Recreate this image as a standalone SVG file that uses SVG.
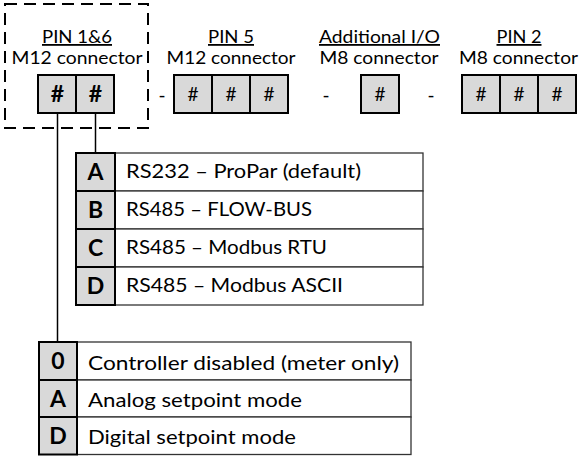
<svg xmlns="http://www.w3.org/2000/svg" width="581" height="456" viewBox="0 0 581 456">
<style>
text{font-family:Lato,"Open Sans","Liberation Sans",sans-serif;fill:#000}
.hdr{font-size:18px;text-anchor:middle}
.u{text-decoration:underline}
.pin{fill:#d9d9d9;stroke:#000;stroke-width:2}
.h{font-size:19px;text-anchor:middle}
.hb{font-size:23px;font-weight:bold;text-anchor:middle}
.key{fill:#d9d9d9;stroke:#000;stroke-width:2}
.cell{fill:#fff;stroke:#333;stroke-width:1.3}
.kl{font-size:23px;font-weight:bold;text-anchor:middle}
.desc{font-size:19px}
.conn{stroke:#000;stroke-width:1.5;fill:none}
</style>
<g id="group-pin16">
<rect x="5" y="4" width="143" height="124" fill="none" stroke="#000" stroke-width="2" stroke-dasharray="12 7"/>
<text class="hdr u" x="77" y="43" textLength="70" lengthAdjust="spacingAndGlyphs">PIN 1&amp;6</text>
<text class="hdr" x="77" y="64" textLength="131" lengthAdjust="spacingAndGlyphs">M12 connector</text>
<rect class="pin" x="38" y="75" width="38" height="38"/>
<rect class="pin" x="76" y="75" width="38" height="38"/>
<text class="hb" x="57.5" y="102">#</text>
<text class="hb" x="95.5" y="102">#</text>
</g>
<g id="sep1"><text class="h" x="162" y="102">-</text></g>
<g id="group-pin5">
<text class="hdr u" x="231" y="43" textLength="46" lengthAdjust="spacingAndGlyphs">PIN 5</text>
<text class="hdr" x="231" y="64" textLength="129" lengthAdjust="spacingAndGlyphs">M12 connector</text>
<rect class="pin" x="174" y="75" width="38" height="38"/>
<rect class="pin" x="212" y="75" width="38" height="38"/>
<rect class="pin" x="250" y="75" width="38" height="38"/>
<text class="h" x="193" y="101">#</text>
<text class="h" x="231" y="101">#</text>
<text class="h" x="269" y="101">#</text>
</g>
<g id="sep2"><text class="h" x="326" y="102">-</text></g>
<g id="group-io">
<text class="hdr u" x="379.5" y="43" textLength="121" lengthAdjust="spacingAndGlyphs">Additional I/O</text>
<text class="hdr" x="379" y="64" textLength="119" lengthAdjust="spacingAndGlyphs">M8 connector</text>
<rect class="pin" x="361" y="75" width="38" height="38"/>
<text class="h" x="380" y="101">#</text>
</g>
<g id="sep3"><text class="h" x="431" y="102">-</text></g>
<g id="group-pin2">
<text class="hdr u" x="519" y="43" textLength="45" lengthAdjust="spacingAndGlyphs">PIN 2</text>
<text class="hdr" x="518.5" y="64" textLength="119" lengthAdjust="spacingAndGlyphs">M8 connector</text>
<rect class="pin" x="462" y="75" width="38" height="38"/>
<rect class="pin" x="500" y="75" width="38" height="38"/>
<rect class="pin" x="538" y="75" width="38" height="38"/>
<text class="h" x="481" y="101">#</text>
<text class="h" x="519" y="101">#</text>
<text class="h" x="557" y="101">#</text>
</g>
<g id="connectors">
<line class="conn" x1="95.5" y1="113" x2="95.5" y2="153"/>
<line class="conn" x1="57.5" y1="113" x2="57.5" y2="342"/>
</g>
<g id="table-comm">
<rect class="cell" x="115" y="153" width="308" height="38"/>
<rect class="cell" x="115" y="191" width="308" height="38"/>
<rect class="cell" x="115" y="229" width="308" height="38"/>
<rect class="cell" x="115" y="267" width="308" height="38"/>
<rect class="key" x="76" y="153" width="39" height="38"/>
<rect class="key" x="76" y="191" width="39" height="38"/>
<rect class="key" x="76" y="229" width="39" height="38"/>
<rect class="key" x="76" y="267" width="39" height="38"/>
<text class="kl" x="95.5" y="180">A</text>
<text class="kl" x="95.5" y="218">B</text>
<text class="kl" x="95.5" y="256">C</text>
<text class="kl" x="95.5" y="294">D</text>
<text class="desc" x="126" y="178" textLength="235" lengthAdjust="spacingAndGlyphs">RS232 – ProPar (default)</text>
<text class="desc" x="126" y="216" textLength="186" lengthAdjust="spacingAndGlyphs">RS485 – FLOW-BUS</text>
<text class="desc" x="126" y="254" textLength="201" lengthAdjust="spacingAndGlyphs">RS485 – Modbus RTU</text>
<text class="desc" x="126" y="292" textLength="217" lengthAdjust="spacingAndGlyphs">RS485 – Modbus ASCII</text>
</g>
<g id="table-mode">
<rect class="cell" x="77" y="342" width="334" height="38"/>
<rect class="cell" x="77" y="380" width="334" height="37"/>
<rect class="cell" x="77" y="417" width="334" height="37.5"/>
<rect class="key" x="39" y="342" width="38" height="38"/>
<rect class="key" x="39" y="380" width="38" height="37"/>
<rect class="key" x="39" y="417" width="38" height="37.5"/>
<text class="kl" x="58" y="369">0</text>
<text class="kl" x="58" y="407">A</text>
<text class="kl" x="58" y="444">D</text>
<text class="desc" x="88" y="370" textLength="311" lengthAdjust="spacingAndGlyphs">Controller disabled (meter only)</text>
<text class="desc" x="88" y="407" textLength="214" lengthAdjust="spacingAndGlyphs">Analog setpoint mode</text>
<text class="desc" x="88" y="444" textLength="208" lengthAdjust="spacingAndGlyphs">Digital setpoint mode</text>
</g>
</svg>
